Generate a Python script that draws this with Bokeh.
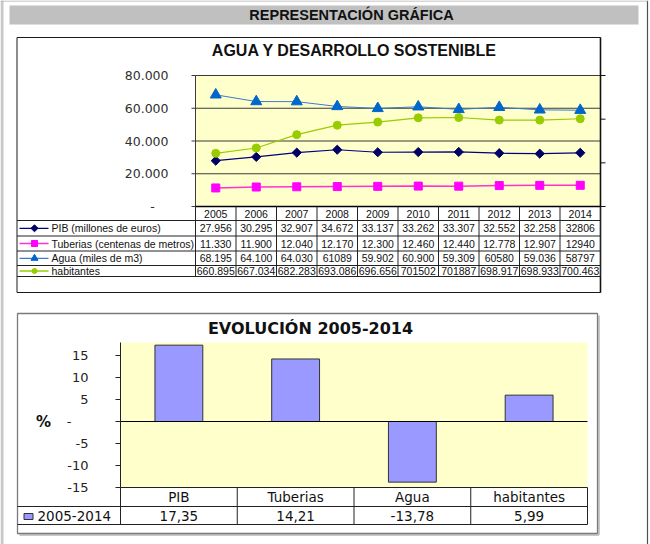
import numpy as np
from bokeh.plotting import figure
from bokeh.models import Range1d
from bokeh.core.properties import value
from bokeh.embed import file_html
from bokeh.resources import INLINE

# ---------------- data ----------------
years = ["2005", "2006", "2007", "2008", "2009", "2010", "2011", "2012", "2013", "2014"]
pib = [27956, 30295, 32907, 34672, 33137, 33262, 33307, 32552, 32258, 32806]
tuberias = [11330, 11900, 12040, 12170, 12300, 12460, 12440, 12778, 12907, 12940]
agua = [68195, 64100, 64030, 61089, 59902, 60900, 59309, 60580, 59036, 58797]
habitantes = [660895, 667034, 682283, 693086, 696656, 701502, 701887, 698917, 698933, 700463]

pib_txt = ["27.956", "30.295", "32.907", "34.672", "33.137", "33.262", "33.307", "32.552", "32.258", "32806"]
tub_txt = ["11.330", "11.900", "12.040", "12.170", "12.300", "12.460", "12.440", "12.778", "12.907", "12940"]
agua_txt = ["68.195", "64.100", "64.030", "61089", "59.902", "60.900", "59.309", "60580", "59.036", "58797"]
hab_txt = ["660.895", "667.034", "682.283", "693.086", "696.656", "701502", "701887", "698.917", "698.933", "700.463"]

series_names = ["PIB (millones de euros)", "Tuberias (centenas de metros)",
                "Agua (miles de m3)", "habitantes"]

y1_ticks = [0, 20000, 40000, 60000, 80000]
y1_labels = ["-", "20.000", "40.000", "60.000", "80.000"]
y2_ticks = [600000, 650000, 700000, 750000]

evo_cats = ["PIB", "Tuberias", "Agua", "habitantes"]
evo_vals = [17.35, 14.21, -13.78, 5.99]
evo_txt = ["17,35", "14,21", "-13,78", "5,99"]
evo_series = "2005-2014"
evo_ticks = [-15, -10, -5, 0, 5, 10, 15]
evo_labels = ["-15", "-10", "-5", "-", "5", "10", "15"]

# ---------------- page ----------------
W, H = 650, 544


def lin(v0, p0, v1, p1, size):
    k = (v1 - v0) / (p1 - p0)
    s = v0 - p0 * k
    return Range1d(start=s, end=s + size * k)


p = figure(width=W, height=H, x_range=Range1d(0, W), y_range=Range1d(H, 0),
           output_backend="svg", toolbar_location=None, min_border=0,
           x_axis_location=None, y_axis_location=None, outline_line_color=None)
p.grid.visible = False
p.background_fill_color = "white"
p.border_fill_color = "white"

# layout (pixels from top-left)
TOP_PL, TOP_PR, TOP_PT, TOP_PB = 195, 600, 75, 206
BOT_PL, BOT_PR, BOT_PT, BOT_PB = 120, 587, 342, 487
BOT_ZERO = 421

p.extra_x_ranges = {
    "tx": lin(0, TOP_PL, len(years), TOP_PR, W),
    "bx": lin(0, BOT_PL, len(evo_cats), BOT_PR, W),
}
p.extra_y_ranges = {
    "ty": lin(0, H - TOP_PB, 80000, H - TOP_PT, H),
    "ty2": lin(600000, H - TOP_PB, 750000, H - TOP_PT, H),
    "by": lin(0, H - BOT_ZERO, -15, H - BOT_PB, H),
}

SANS = value("Liberation Sans")
DJ = value("DejaVu Sans")

# page frame
p.quad(left=0, right=3, top=0, bottom=H, fill_color="#C8C8C8", line_color=None)
p.segment(x0=647, y0=0, x1=647, y1=H, line_color="#505050", line_width=1.2)
p.segment(x0=0, y0=0.5, x1=647, y1=0.5, line_color="#B0B0B0", line_width=1)

# header bar
p.quad(left=9, right=638, top=5, bottom=24, fill_color="#C0C0C0", line_color=None)
p.text(x=[351], y=[14.5], text=["REPRESENTACIÓN GRÁFICA"], text_font=SANS,
       text_font_size="14.5px", text_font_style="bold", text_align="center",
       text_baseline="middle", text_color="#111111")

# ---------------- top chart ----------------
p.quad(left=16.5, right=600, top=37, bottom=292, fill_color="white",
       line_color="#1a1a1a", line_width=1)
p.text(x=[354], y=[50], text=["AGUA Y DESARROLLO SOSTENIBLE"], text_font=SANS,
       text_font_size="16px", text_font_style="bold", text_align="center",
       text_baseline="middle", text_color="#111111")

p.quad(left=TOP_PL, right=TOP_PR, top=TOP_PT, bottom=TOP_PB,
       fill_color="#FFFFCC", line_color=None)

# gridlines + left ticks + labels (primary axis)
for v, lab in zip(y1_ticks, y1_labels):
    if v != 0:
        p.segment(x0=TOP_PL, y0=v, x1=TOP_PR, y1=v, y_range_name="ty",
                  line_color="#3a3a3a", line_width=1.2)
    p.segment(x0=TOP_PL - 4, y0=v, x1=TOP_PL, y1=v, y_range_name="ty",
              line_color="#3a3a3a", line_width=1)
    if lab == "-":
        p.text(x=[152], y=[v], text=[lab], y_range_name="ty", text_font=DJ,
               text_font_size="12.5px", text_align="center", text_baseline="middle",
               text_color="#303030")
    else:
        p.text(x=[168], y=[v], text=[lab], y_range_name="ty", text_font=DJ,
               text_font_size="12.5px", text_align="right", text_baseline="middle",
               text_color="#303030")

p.segment(x0=TOP_PL, y0=TOP_PT, x1=TOP_PL, y1=TOP_PB, line_color="#3a3a3a", line_width=1)
p.segment(x0=TOP_PR, y0=37, x1=TOP_PR, y1=292, line_color="#111111", line_width=1.6)

# secondary axis ticks
for v in y2_ticks:
    p.segment(x0=TOP_PR, y0=v, x1=TOP_PR + 5, y1=v, y_range_name="ty2",
              line_color="#111111", line_width=1)

xs = np.arange(len(years)) + 0.5

# series
p.line(xs, agua, x_range_name="tx", y_range_name="ty", line_color="#3A7CC8", line_width=1)
p.line(xs, habitantes, x_range_name="tx", y_range_name="ty2", line_color="#99CC00", line_width=1.2)
p.line(xs, pib, x_range_name="tx", y_range_name="ty", line_color="#000080", line_width=1.2)
p.line(xs, tuberias, x_range_name="tx", y_range_name="ty", line_color="#FF33CC", line_width=1.5)

p.scatter(xs, tuberias, x_range_name="tx", y_range_name="ty", marker="square", size=8,
          fill_color="#FF00FF", line_color="#FF00FF")
p.scatter(xs, pib, x_range_name="tx", y_range_name="ty", marker="square", size=6.5,
          angle=np.pi / 4, fill_color="#000066", line_color="#000066")
p.scatter(xs, habitantes, x_range_name="tx", y_range_name="ty2", marker="circle", size=8,
          fill_color="#99CC00", line_color="#99CC00")
p.scatter(xs, agua, x_range_name="tx", y_range_name="ty", marker="triangle", size=11,
          fill_color="#0066CC", line_color="#0066CC")

# data table
row_lines = [220, 235.5, 250.5, 265, 276]
row_mid = [227.8, 243, 257.8, 270.5]
p.segment(x0=TOP_PL, y0=TOP_PB, x1=TOP_PR, y1=TOP_PB, line_color="#000000", line_width=1.3)
for yl in row_lines:
    p.segment(x0=16.5, y0=yl, x1=TOP_PR, y1=yl, line_color="#222222", line_width=1)
for k in range(len(years) + 1):
    p.segment(x0=k, y0=TOP_PB, x1=k, y1=row_lines[-1], x_range_name="tx",
              line_color="#222222", line_width=1)

p.text(x=xs, y=[213] * len(years), text=years, x_range_name="tx", text_font=SANS,
       text_font_size="10.5px", text_align="center", text_baseline="middle",
       text_color="#111111")
for txt, ym in zip([pib_txt, tub_txt, agua_txt, hab_txt], row_mid):
    p.text(x=xs, y=[ym] * len(xs), text=txt, x_range_name="tx", text_font=SANS,
           text_font_size="10.5px", text_align="center", text_baseline="middle",
           text_color="#111111")

# legend column
leg_styles = [
    dict(line="#000080", marker="square", angle=np.pi / 4, size=5, fill="#000066"),
    dict(line="#FF33CC", marker="square", angle=0, size=6, fill="#FF00FF"),
    dict(line="#3A7CC8", marker="triangle", angle=0, size=7, fill="#0066CC"),
    dict(line="#99CC00", marker="circle", angle=0, size=5, fill="#99CC00"),
]
for name, st, ym in zip(series_names, leg_styles, row_mid):
    p.segment(x0=19, y0=ym, x1=48, y1=ym, line_color=st["line"], line_width=1.3)
    p.scatter(x=[34], y=[ym], marker=st["marker"], size=st["size"], angle=st["angle"],
              fill_color=st["fill"], line_color=st["fill"])
    p.text(x=[51], y=[ym], text=[name], text_font=SANS, text_font_size="10.5px",
           text_align="left", text_baseline="middle", text_color="#111111")

# ---------------- bottom chart ----------------
p.segment(x0=19, y0=534.5, x1=598.5, y1=534.5, line_color="#C8C8C8", line_width=2)
p.segment(x0=598.5, y0=315, x1=598.5, y1=534.5, line_color="#C8C8C8", line_width=2)
p.quad(left=17, right=597, top=313, bottom=533, fill_color="white",
       line_color="#7a7a7a", line_width=1.3)
p.text(x=[310], y=[328], text=["EVOLUCIÓN 2005-2014"], text_font=DJ,
       text_font_size="16px", text_font_style="bold", text_align="center",
       text_baseline="middle", text_color="#111111")

p.quad(left=BOT_PL, right=BOT_PR, top=BOT_PT, bottom=BOT_PB,
       fill_color="#FFFFCC", line_color=None)

bx = np.arange(len(evo_cats)) + 0.5
p.vbar(x=bx, top=evo_vals, bottom=0, width=0.41, x_range_name="bx", y_range_name="by",
       fill_color="#9999FF", line_color="#333333", line_width=1)
p.segment(x0=0, y0=0, x1=len(evo_cats), y1=0, x_range_name="bx", y_range_name="by",
          line_color="#000000", line_width=1)

p.segment(x0=BOT_PL, y0=BOT_PT, x1=BOT_PL, y1=BOT_PB, line_color="#222222", line_width=1)
for v, lab in zip(evo_ticks, evo_labels):
    p.segment(x0=BOT_PL - 5, y0=v, x1=BOT_PL, y1=v, y_range_name="by",
              line_color="#222222", line_width=1)
    if lab == "-":
        p.text(x=[68.5], y=[v], text=[lab], y_range_name="by", text_font=DJ,
               text_font_size="13px", text_align="center", text_baseline="middle",
               text_color="#222222")
    else:
        p.text(x=[88], y=[v], text=[lab], y_range_name="by", text_font=DJ,
               text_font_size="13px", text_align="right", text_baseline="middle",
               text_color="#222222")
p.text(x=[43], y=[421], text=["%"], text_font=DJ, text_font_size="15px",
       text_font_style="bold", text_align="center", text_baseline="middle",
       text_color="#111111")

# bottom data table
p.segment(x0=BOT_PL, y0=BOT_PB, x1=BOT_PR, y1=BOT_PB, line_color="#222222", line_width=1)
for yl in [506, 524]:
    p.segment(x0=17, y0=yl, x1=BOT_PR, y1=yl, line_color="#222222", line_width=1)
for k in range(len(evo_cats) + 1):
    p.segment(x0=k, y0=BOT_PB, x1=k, y1=524, x_range_name="bx",
              line_color="#222222", line_width=1)
p.text(x=bx, y=[496.5] * len(bx), text=evo_cats, x_range_name="bx", text_font=DJ,
       text_font_size="13.5px", text_align="center", text_baseline="middle",
       text_color="#111111")
p.text(x=bx, y=[515.5] * len(bx), text=evo_txt, x_range_name="bx", text_font=DJ,
       text_font_size="13.5px", text_align="center", text_baseline="middle",
       text_color="#111111")
p.rect(x=[28], y=[516], width=9, height=6, fill_color="#9999FF", line_color="#333333",
       line_width=1)
p.text(x=[37], y=[515.5], text=[evo_series], text_font=DJ, text_font_size="13.5px",
       text_align="left", text_baseline="middle", text_color="#111111")

open("out.html", "w").write(file_html(p, INLINE))
